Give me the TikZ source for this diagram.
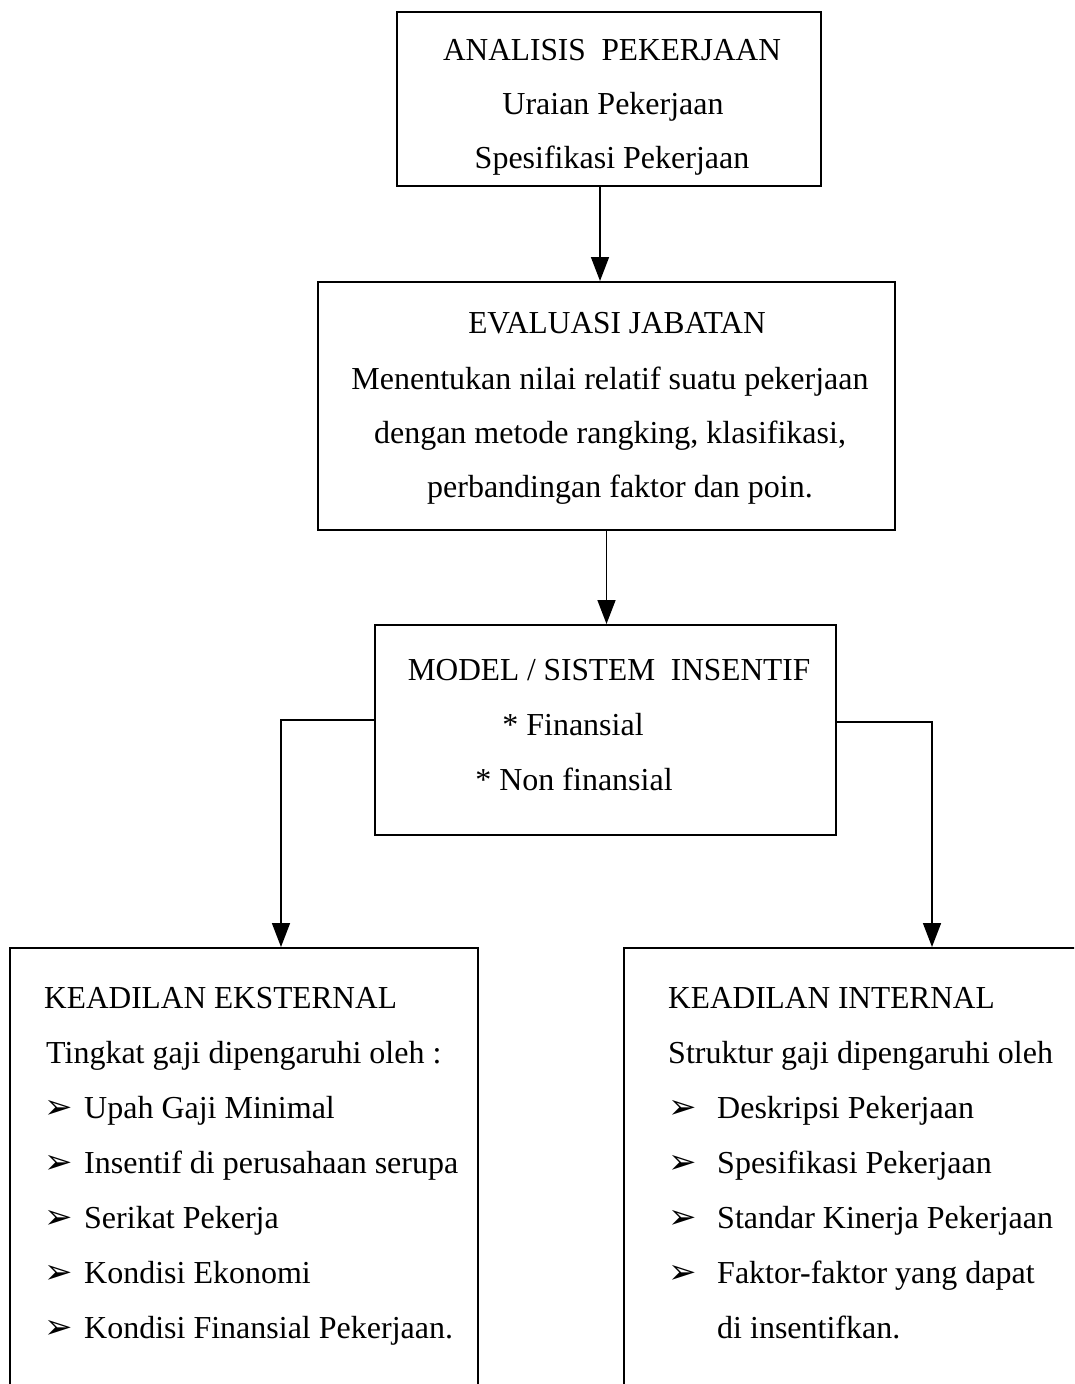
\documentclass[tikz,border=0pt]{standalone}
\usepackage{fontspec}
\setmainfont{Liberation Serif}
\newfontfamily\capsfont[FakeStretch=0.98]{Liberation Serif}
\newfontfamily\symfont{DejaVu Sans}
\usetikzlibrary{arrows.meta}
\begin{document}
\begin{tikzpicture}[x=1pt,y=-1pt,
  box/.style={draw, line width=2pt, inner sep=0pt},
  txt/.style={anchor=base, inner sep=0pt, font=\fontsize{32}{38}\selectfont},
  captxt/.style={txt, font=\capsfont\fontsize{32}{38}\selectfont},
  txtl/.style={txt, anchor=base west},
  captxtl/.style={captxt, anchor=base west},
  bul/.style={anchor=base west, inner sep=0pt, font=\symfont\fontsize{34}{40}\selectfont},
  conn/.style={line width=1.6pt, -{Triangle[width=18pt,length=24pt]}},
]
\useasboundingbox (0,0) rectangle (1074,1384);
\clip (0,0) rectangle (1074,1384);
\fill[white] (0,0) rectangle (1074,1384);
% boxes
\node[box, minimum width=424pt, minimum height=174pt] (a) at (609,99) {};
\node[box, minimum width=577pt, minimum height=248pt] (b) at (606.5,406) {};
\node[box, minimum width=461pt, minimum height=210pt] (c) at (605.5,730) {};
\node[box, minimum width=468pt, minimum height=502pt] (d) at (244,1199) {};
\node[box, minimum width=506pt, minimum height=502pt] (e) at (877,1199) {};
% connectors
\draw[conn] ([xshift=-9pt]a.south) -- ([xshift=-9pt]a.south |- b.north);
\draw[conn] (b.south) -- (b.south |- c.north);
\draw[conn] ([yshift=10pt]c.west) -| ([xshift=37pt]d.north);
\draw[conn] ([yshift=8pt]c.east) -| ([xshift=55pt]e.north);
% texts
\node[captxt] (a1) at (612,60) {ANALISIS\ \ PEKERJAAN};
\node[txt] (a2) at (613,114) {Uraian Pekerjaan};
\node[txt] (a3) at (612,168) {Spesifikasi Pekerjaan};
\node[captxt] (b1) at (617,333) {EVALUASI JABATAN};
\node[txt] (b2) at (610,389) {Menentukan nilai relatif suatu pekerjaan};
\node[txt] (b3) at (610,443) {dengan metode rangking, klasifikasi,};
\node[txt] (b4) at (620,497) {perbandingan faktor dan poin.};
\node[captxt] (c1) at (609,680) {MODEL / SISTEM\ \ INSENTIF};
\node[txt] (c2) at (573,735) {* Finansial};
\node[txt] (c3) at (574,790) {* Non finansial};
\node[captxtl] (d1) at (44,1008) {KEADILAN EKSTERNAL};
\node[txtl] (d2) at (46,1063) {Tingkat gaji dipengaruhi oleh :};
\foreach [count=\i] \t in {Upah Gaji Minimal, Insentif di perusahaan serupa, Serikat Pekerja, Kondisi Ekonomi, Kondisi Finansial Pekerjaan.} {
  \node[bul] (db\i) at (44, 1063+55*\i) {➢};
  \node[txtl] (dt\i) at (84, 1063+55*\i) {\t};
}
\node[captxtl] (e1) at (668,1008) {KEADILAN INTERNAL};
\node[txtl] (e2) at (668,1063) {Struktur gaji dipengaruhi oleh};
\foreach [count=\i] \t in {Deskripsi Pekerjaan, Spesifikasi Pekerjaan, Standar Kinerja Pekerjaan, Faktor-faktor yang dapat} {
  \node[bul] (eb\i) at (668, 1063+55*\i) {➢};
  \node[txtl] (et\i) at (717, 1063+55*\i) {\t};
}
\node[txtl] (e7) at (717,1338) {di insentifkan.};
\end{tikzpicture}
\end{document}
